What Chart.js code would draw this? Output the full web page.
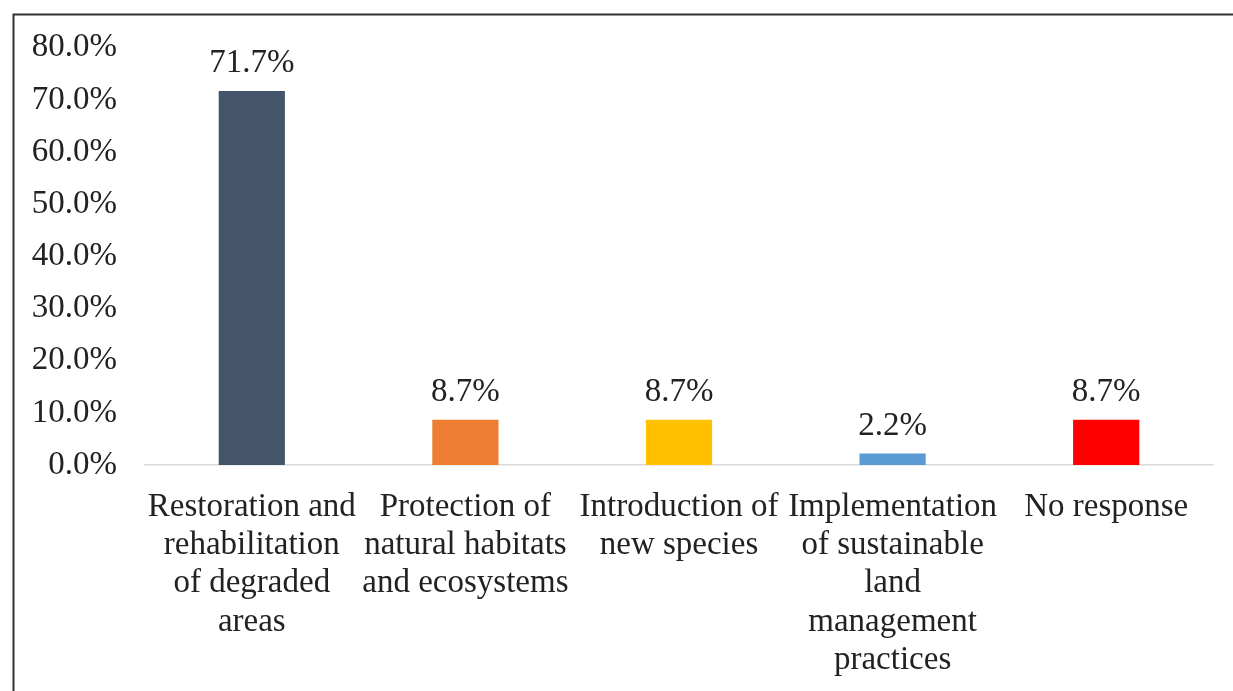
<!DOCTYPE html>
<html>
<head>
<meta charset="utf-8">
<script src="https://cdn.jsdelivr.net/npm/chart.js@4"></script>
<style>
  html, body { margin: 0; padding: 0; background: #fff; }
  #wrap { position: relative; width: 1233px; height: 691px; }
</style>
</head>
<body>
<div id="wrap"><canvas id="chart" width="1233" height="691"></canvas></div>
<script>
const categories = [
  ["Restoration and", "rehabilitation", "of degraded", "areas"],
  ["Protection of", "natural habitats", "and ecosystems"],
  ["Introduction of", "new species"],
  ["Implementation", "of sustainable", "land", "management", "practices"],
  ["No response"]
];
const shares = [71.7, 8.7, 8.7, 2.2, 8.7];
const barColors = ["#44546A", "#ED7D31", "#FFC000", "#5B9BD5", "#FF0000"];
const yTicks = [0, 10, 20, 30, 40, 50, 60, 70, 80];

const FONT = "'Liberation Serif', 'Times New Roman', serif";
const FONT_SIZE = 33;
const TEXT = "#222";

// Frame lines along the left and top edges of the figure
const framePlugin = {
  id: 'frame',
  afterDraw(chart) {
    const ctx = chart.ctx;
    ctx.save();
    ctx.strokeStyle = '#333';
    ctx.lineWidth = 2;
    ctx.beginPath();
    ctx.moveTo(13.5, chart.height);
    ctx.lineTo(13.5, 14.5);
    ctx.lineTo(chart.width, 14.5);
    ctx.stroke();
    ctx.restore();
  }
};

// Value labels above each bar
const valueLabels = {
  id: 'valueLabels',
  afterDatasetsDraw(chart) {
    const ctx = chart.ctx;
    const meta = chart.getDatasetMeta(0);
    ctx.save();
    ctx.font = `${FONT_SIZE}px ${FONT}`;
    ctx.fillStyle = TEXT;
    ctx.textAlign = 'center';
    ctx.textBaseline = 'alphabetic';
    meta.data.forEach((bar, i) => {
      ctx.fillText(shares[i].toFixed(1) + '%', bar.x, bar.y - 19);
    });
    ctx.restore();
  }
};

new Chart(document.getElementById('chart'), {
  type: 'bar',
  data: {
    labels: categories,
    datasets: [{
      data: shares,
      backgroundColor: barColors,
      borderWidth: 0,
      categoryPercentage: 1.0,
      barPercentage: 0.31
    }]
  },
  options: {
    responsive: false,
    animation: false,
    layout: { padding: { left: 0, top: 47, right: 20, bottom: 0 } },
    plugins: { legend: { display: false }, tooltip: { enabled: false } },
    scales: {
      x: {
        grid: { display: false, drawTicks: false },
        border: { display: true, color: '#D9D9D9', width: 1.5 },
        ticks: {
          color: TEXT,
          font: { family: FONT, size: FONT_SIZE, lineHeight: 1.16 },
          padding: 23,
          maxRotation: 0,
          autoSkip: false
        },
        afterFit(scale) { scale.height = 226; }
      },
      y: {
        min: 0,
        max: 80,
        grid: { display: false, drawTicks: false },
        border: { display: false },
        afterBuildTicks(scale) { scale.ticks = yTicks.map(v => ({ value: v })); },
        ticks: {
          color: TEXT,
          font: { family: FONT, size: FONT_SIZE },
          padding: 28,
          callback: v => v.toFixed(1) + '%'
        },
        afterFit(scale) { scale.width = 145; }
      }
    }
  },
  plugins: [framePlugin, valueLabels]
});
</script>
</body>
</html>
